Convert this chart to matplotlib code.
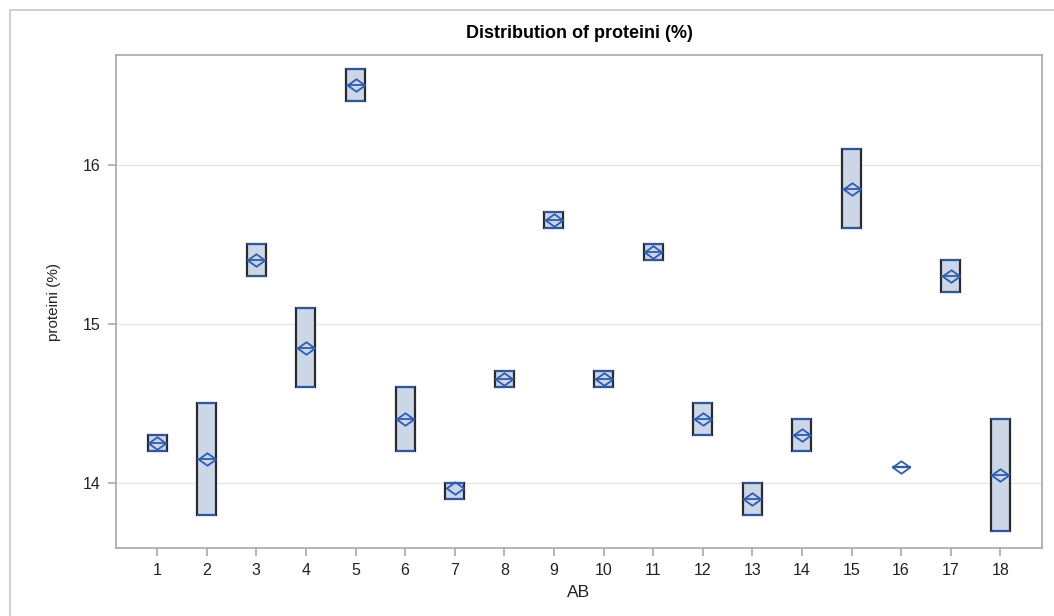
import matplotlib
matplotlib.use("Agg")
import matplotlib.pyplot as plt
from matplotlib.patches import Rectangle
from matplotlib.path import Path

plt.rcParams['font.family'] = ['Liberation Sans', 'DejaVu Sans']

# one box per AB group: lowest, highest, median and mean of proteini (%)
groups = list(range(1, 19))
p_min = [14.2, 13.8, 15.3, 14.6, 16.4, 14.2, 13.9, 14.6, 15.6, 14.6, 15.4, 14.3, 13.8, 14.2, 15.6, 14.1, 15.2, 13.7]
p_max = [14.3, 14.5, 15.5, 15.1, 16.6, 14.6, 14.0, 14.7, 15.7, 14.7, 15.5, 14.5, 14.0, 14.4, 16.1, 14.1, 15.4, 14.4]
p_med = [14.25, 14.15, 15.4, 14.85, 16.5, 14.4, 14.0, 14.65, 15.65, 14.65, 15.45, 14.4, 13.9, 14.3, 15.85, 14.1, 15.3, 14.05]
p_mean = [14.25, 14.15, 15.4, 14.85, 16.5, 14.4, 13.967, 14.65, 15.65, 14.65, 15.45, 14.4, 13.9, 14.3, 15.85, 14.1, 15.3, 14.05]
y_ticks = [14, 15, 16]

BOX_FILL = '#cbd6e6'
BLUE = '#2b5cb8'
AXIS_GRAY = '#a8a8a8'

# flat diamond like the SAS mean marker
diamond = Path([(-1, 0), (0, 0.72), (1, 0), (0, -0.72), (-1, 0)],
               [Path.MOVETO, Path.LINETO, Path.LINETO, Path.LINETO, Path.CLOSEPOLY])

stats = []
for g, lo, hi, med, mn in zip(groups, p_min, p_max, p_med, p_mean):
    stats.append({'label': str(g), 'q1': lo, 'q3': hi, 'med': med, 'mean': mn,
                  'whislo': lo, 'whishi': hi, 'fliers': []})

fig = plt.figure(figsize=(10.54, 6.16), dpi=100)
ax = fig.add_axes([0.110, 0.1104, 0.8786, 0.8003])

parts = ax.bxp(stats, positions=groups, widths=0.38, patch_artist=True, showmeans=True,
               capwidths=0.34,
               medianprops=dict(color=BLUE, linewidth=1.3),
               whiskerprops=dict(color=BLUE, linewidth=0),
               capprops=dict(color=BLUE, linewidth=1.3),
               meanprops=dict(marker=diamond, markersize=12.5, markerfacecolor='none',
                              markeredgecolor=BLUE, markeredgewidth=1.3),
               zorder=3)
for b in parts['boxes']:
    b.set_facecolor(BOX_FILL)
    b.set_edgecolor('#2a2a2a')
    b.set_linewidth(1.6)
    b.set_zorder(2)

ax.set_xlim(0.17, 18.84)
ax.set_ylim(13.59, 16.69)
ax.set_yticks(y_ticks)
ax.set_yticklabels([str(t) for t in y_ticks])
ax.set_xticks(groups)
ax.set_xticklabels([str(g) for g in groups])

ax.grid(axis='y', color='#e6e6e6', linewidth=1, zorder=0)
ax.set_axisbelow(True)
for s in ax.spines.values():
    s.set_color(AXIS_GRAY)
    s.set_linewidth(1.2)
ax.tick_params(axis='both', colors=AXIS_GRAY, labelcolor='#222222', labelsize=11.5,
               length=6, width=1.2, pad=5)

ax.set_title('Distribution of proteini (%)', fontsize=13, fontweight='bold', pad=12)
ax.set_xlabel('AB', fontsize=12.5, color='#222222', labelpad=5)
ax.set_ylabel('proteini (%)', fontsize=11, color='#222222', labelpad=16)

# light outer frame around the graph
fig.patches.append(Rectangle((10 / 1054, -0.01), 1.0, 1 - 10 / 616 + 0.01,
                             transform=fig.transFigure, fill=False,
                             edgecolor='#c8c8c8', linewidth=1.2))

fig.savefig('out.png', dpi=100)
